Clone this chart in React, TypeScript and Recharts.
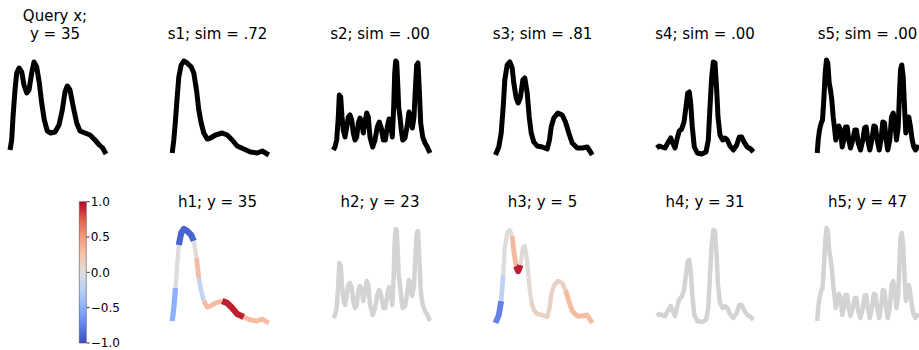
import React from 'react';
import { LineChart, Line, XAxis, YAxis, BarChart, Bar } from 'recharts';

type Pt = [number, number];

// Query series and the five retrieved series (x = time step, y = normalised intensity)
const queryX: Pt[] = [
  [5, 8], [6.7, 18], [8, 41], [10, 68], [11.7, 85], [14, 90], [16.7, 86], [19, 73], [21.7, 65],
  [24, 68], [26.7, 85], [29, 96], [31.7, 91], [34.3, 75], [36.7, 55], [39.3, 38], [42.3, 27],
  [45.7, 25], [50, 26], [54, 33], [57.3, 48], [60, 66], [62.3, 72], [65, 68], [68.3, 51],
  [71.7, 35], [75, 27], [80, 25], [85, 23], [90, 18], [94.3, 13], [97.7, 10], [101, 4],
];

const s1: Pt[] = [
  [4.2, 5], [5.8, 18], [7.5, 38], [9.2, 61], [10.8, 81], [13.2, 93], [15.8, 97], [19.2, 95],
  [23.2, 91], [25.8, 85], [28.5, 68], [30.8, 48], [33.2, 35], [35.8, 25], [39.2, 19], [42.5, 20],
  [47.5, 23], [54.2, 25], [59.2, 23], [64.2, 18], [69.2, 12], [75.8, 9], [82.5, 6], [89.2, 5],
  [94.2, 7], [97.5, 5], [100.8, 3],
];

const s2: Pt[] = [
  [3.3, 8], [5, 11], [6.7, 18], [8.3, 41], [9.3, 63], [10.7, 61], [12, 41], [13.3, 28], [15, 21],
  [16.7, 31], [18.3, 41], [20, 43], [21.7, 38], [23.3, 25], [25, 18], [26.7, 21], [28.3, 35],
  [30, 40], [31.7, 36], [33.3, 25], [35, 36], [36.7, 45], [38.3, 41], [40, 21], [42.7, 11],
  [45, 18], [47.3, 31], [49.3, 36], [51.3, 30], [53.3, 18], [55.3, 18], [57.3, 31], [59, 39],
  [60.7, 35], [62.3, 21], [63.7, 51], [64.7, 85], [65.7, 97], [66.7, 96], [67.7, 75], [68.7, 51],
  [70, 41], [71.3, 28], [72.7, 18], [75, 20], [77.3, 33], [79, 46], [80.7, 41], [82.3, 30],
  [84, 41], [85.3, 68], [86.7, 93], [88, 95], [89.3, 68], [90.7, 35], [92.7, 21], [95, 15],
  [97.3, 11], [100, 5],
];

const s3: Pt[] = [
  [2.5, 3], [5.8, 11], [8.2, 25], [10.2, 51], [11.8, 78], [14.2, 93], [16.8, 96], [19.2, 90],
  [20.8, 75], [23.2, 60], [25.2, 55], [27.5, 61], [29.8, 78], [31.8, 80], [34.2, 65], [36.2, 41],
  [38.2, 25], [40.8, 16], [44.2, 12], [49.2, 11], [54.2, 9], [56.5, 18], [58.2, 31], [60.8, 40],
  [64.8, 45], [69.2, 43], [72.5, 36], [75.8, 25], [79.2, 15], [84.2, 10], [89.2, 10], [94.2, 11],
  [97.5, 6], [99.2, 3],
];

const s4: Pt[] = [
  [1.7, 10], [4.3, 12], [7, 11], [10, 10], [13.3, 16], [15.7, 20], [17.7, 15], [20, 10],
  [22.3, 20], [24.3, 27], [26.7, 29], [29, 36], [31, 51], [32.7, 65], [34.3, 66], [35.7, 55],
  [37.3, 31], [39.3, 11], [42.3, 5], [46.7, 4], [51, 6], [53.3, 18], [55, 51], [56.7, 81],
  [58.3, 96], [60, 95], [61.7, 68], [63, 41], [65, 23], [67.7, 18], [70, 20], [72.3, 18],
  [75, 12], [78.3, 8], [81.7, 13], [84.3, 21], [86.7, 21], [89, 16], [92.3, 11], [95.7, 9],
  [98.3, 6],
];

const s5: Pt[] = [
  [-0.8, 5], [0.2, 18], [1.5, 28], [3.2, 35], [4.5, 38], [5.8, 58], [7.2, 85], [8.5, 98],
  [9.8, 95], [11.2, 75], [12.5, 68], [13.8, 58], [15.2, 41], [16.5, 30], [17.8, 18], [19.2, 25],
  [20.8, 32], [22.5, 28], [24.2, 11], [25.8, 18], [27.5, 31], [29.2, 31], [30.8, 18], [32.5, 10],
  [34.8, 18], [36.8, 28], [38.5, 28], [40.2, 15], [42.5, 8], [44.8, 18], [46.5, 30], [48.2, 31],
  [49.8, 18], [51.8, 8], [53.8, 18], [55.8, 32], [57.5, 31], [59.2, 18], [61.2, 8], [63.2, 20],
  [64.8, 36], [66.5, 35], [68.2, 18], [69.8, 8], [71.8, 18], [73.5, 41], [75.2, 45], [76.8, 35],
  [78.5, 18], [80.2, 31], [81.5, 65], [82.5, 88], [83.8, 93], [85.2, 81], [86.5, 51], [87.8, 25],
  [89.2, 31], [90.8, 41], [92.5, 31], [94.2, 18], [95.8, 11], [97.5, 8], [99.2, 11], [100.5, 9],
];

// Per-step relevance for the two highlighted series (value of step i colours segment i -> i+1)
const h1Relevance: number[] = [
  -0.5, -0.5, 0.02, 0.02, -0.9, -0.9, -0.9, -0.9, -0.9, 0.02, 0.3, -0.17, -0.17, 0.3, 0.3,
  0.3, 0.3, 0.93, 0.93, 0.93, 0.93, 0.3, 0.3, 0.3, 0.3, 0.3, 0.3,
];

const h3Relevance: number[] = [
  -0.75, -0.75, -0.22, 0.02, 0.02, 0.02, 0.02, 0.32, 0.32, 0.93, 0.93, 0.03, 0.03, 0.03, 0.03,
  0.03, 0.12, 0.12, 0.12, 0.12, 0.12, 0.12, 0.12, 0.12, 0.12, 0.12, 0.3, 0.3, 0.3, 0.3, 0.3,
  0.3, 0.3, 0.3,
];

const queryLabel = 35;
const simScores = [0.72, 0.0, 0.81, 0.0, 0.0];
const hLabels = [35, 23, 5, 31, 47];
const colorbarTicks = [-1, -0.5, 0, 0.5, 1];

// coolwarm colormap control points (t = 0 .. 1 in steps of 1/8)
const COOLWARM: [number, number, number][] = [
  [59, 76, 192], [98, 130, 234], [141, 176, 254], [184, 208, 249], [221, 221, 221],
  [245, 196, 172], [244, 154, 123], [222, 96, 77], [180, 4, 38],
];

function coolwarm(v: number): string {
  const t = Math.max(0, Math.min(1, (v + 1) / 2));
  const pos = t * (COOLWARM.length - 1);
  const i = Math.min(COOLWARM.length - 2, Math.floor(pos));
  const f = pos - i;
  const a = COOLWARM[i];
  const b = COOLWARM[i + 1];
  const c = a.map((ch, k) => Math.round(ch + (b[k] - ch) * f));
  return `rgb(${c[0]},${c[1]},${c[2]})`;
}

// Split a series into runs of equal relevance; each run becomes its own line
type Run = { key: string; rel: number; from: number; to: number };

function buildRuns(pts: Pt[], rel: number[]) {
  const runs: Run[] = [];
  let start = 0;
  for (let i = 1; i < pts.length; i++) {
    const end = i === pts.length - 1 || rel[i] !== rel[start];
    if (end) {
      runs.push({ key: `r${runs.length}`, rel: rel[start], from: start, to: i });
      start = i;
    }
  }
  const data = pts.map(([x, y], i) => {
    const row: Record<string, number | null> = { x };
    runs.forEach((r) => {
      row[r.key] = i >= r.from && i <= r.to ? y : null;
    });
    return row;
  });
  return { runs, data };
}

const FONT = 'DejaVu Sans, Verdana, sans-serif';
const COL_PITCH = 162.5;
const COL0 = 5;
const ROW_TOP = [48, 216];
const CHART_W = 120;
const CHART_H = 120;
const MARGIN = { top: 10, right: 8, bottom: 10, left: 8 };

type PlotProps = {
  pts: Pt[];
  col: number;
  row: number;
  color?: string;
  width: number;
  rel?: number[];
};

function SeriesPlot({ pts, col, row, color, width, rel }: PlotProps) {
  const left = COL0 + COL_PITCH * col - 2 - MARGIN.left;
  const { runs, data } = rel
    ? buildRuns(pts, rel)
    : {
        runs: [{ key: 'y', rel: 0, from: 0, to: pts.length - 1 }],
        data: pts.map(([x, y]) => ({ x, y })),
      };
  return (
    <div style={{ position: 'absolute', left, top: ROW_TOP[row] }}>
      <LineChart width={CHART_W} height={CHART_H} data={data} margin={MARGIN}>
        <XAxis type="number" dataKey="x" domain={[-2, 102]} hide />
        <YAxis type="number" domain={[0, 100]} hide />
        {runs.map((r) => (
          <Line
            key={r.key}
            type="linear"
            dataKey={r.key}
            stroke={rel ? coolwarm(r.rel) : color}
            strokeWidth={rel ? width + 2.2 * Math.abs(r.rel) : width}
            strokeLinejoin="round"
            strokeLinecap="butt"
            connectNulls={false}
            dot={false}
            activeDot={false}
            isAnimationActive={false}
          />
        ))}
      </LineChart>
    </div>
  );
}

const fmtSim = (v: number) => v.toFixed(2).replace(/^0/, '');
const fmtTick = (v: number) => v.toFixed(1).replace('-', '\u2212');

function Colorbar() {
  const data = [{ name: 'relevance', range: [-1, 1] }];
  return (
    <div style={{ position: 'absolute', left: 70, top: 190 }}>
      <BarChart
        width={60}
        height={165}
        data={data}
        margin={{ top: 11.7, bottom: 12, left: 9.3, right: 3.3 }}
        barCategoryGap={0}
      >
        <defs>
          <linearGradient id="cbGrad" x1="0" y1="1" x2="0" y2="0">
            {COOLWARM.map((c, i) => (
              <stop
                key={i}
                offset={i / (COOLWARM.length - 1)}
                stopColor={`rgb(${c[0]},${c[1]},${c[2]})`}
              />
            ))}
          </linearGradient>
        </defs>
        <XAxis dataKey="name" type="category" hide />
        <YAxis
          orientation="right"
          type="number"
          domain={[-1, 1]}
          ticks={colorbarTicks}
          interval={0}
          width={40}
          tickSize={3}
          tickMargin={1}
          axisLine={false}
          tickLine={{ stroke: '#000', strokeWidth: 0.8 }}
          tickFormatter={fmtTick}
          tick={{ fontSize: 12, fill: '#000', fontFamily: FONT }}
        />
        <Bar
          dataKey="range"
          fill="url(#cbGrad)"
          stroke="#555"
          strokeWidth={0.6}
          isAnimationActive={false}
        />
      </BarChart>
    </div>
  );
}

export default function App() {
  const topSeries = [queryX, s1, s2, s3, s4, s5];
  const colCenter = (c: number) => COL0 + COL_PITCH * c + 50;
  return (
    <div
      style={{
        position: 'absolute',
        left: 0,
        top: 0,
        width: 919,
        height: 350,
        overflow: 'hidden',
        background: '#fff',
        fontFamily: FONT,
      }}
    >
      {topSeries.map((pts, c) => (
        <SeriesPlot key={`top${c}`} pts={pts} col={c} row={0} color="#000" width={5} />
      ))}
      <SeriesPlot pts={s1} col={1} row={1} width={4.2} rel={h1Relevance} />
      <SeriesPlot pts={s2} col={2} row={1} width={4.5} color="#d3d3d3" />
      <SeriesPlot pts={s3} col={3} row={1} width={4.2} rel={h3Relevance} />
      <SeriesPlot pts={s4} col={4} row={1} width={4.5} color="#d3d3d3" />
      <SeriesPlot pts={s5} col={5} row={1} width={4.5} color="#d3d3d3" />
      <Colorbar />
      <svg
        width={919}
        height={350}
        style={{ position: 'absolute', left: 0, top: 0, pointerEvents: 'none' }}
      >
        <g fontFamily={FONT} fontSize={15} fill="#000" textAnchor="middle">
          <text x={colCenter(0)} y={20.5}>Query x;</text>
          <text x={colCenter(0)} y={38.5}>{`y = ${queryLabel}`}</text>
          {simScores.map((s, i) => (
            <text key={`st${i}`} x={colCenter(i + 1)} y={38.5}>
              {`s${i + 1}; sim = ${fmtSim(s)}`}
            </text>
          ))}
          {hLabels.map((h, i) => (
            <text key={`ht${i}`} x={colCenter(i + 1)} y={206.5}>
              {`h${i + 1}; y = ${h}`}
            </text>
          ))}
        </g>
      </svg>
    </div>
  );
}
